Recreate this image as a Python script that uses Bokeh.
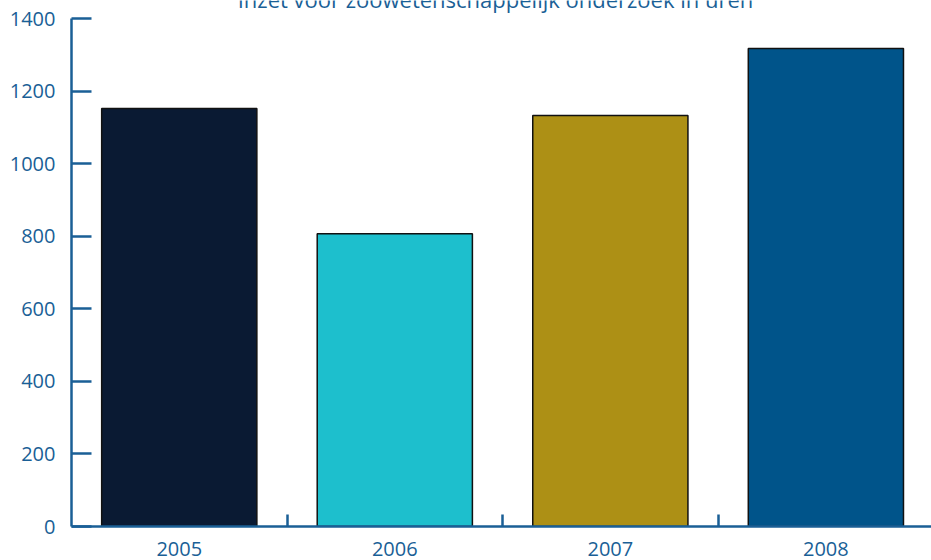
from bokeh.plotting import figure
from bokeh.models import FixedTicker, Range1d, Label, ColumnDataSource
from bokeh.embed import file_html
from bokeh.resources import INLINE

categories = ["2005", "2006", "2007", "2008"]
values = [1152, 807, 1133, 1317]
colors = ["#0a1a33", "#1dbfcd", "#ad9015", "#00548a"]
y_ticks = [0, 200, 400, 600, 800, 1000, 1200, 1400]
title_text = "Inzet voor zoöwetenschappelijk onderzoek in uren"

AXIS = "#1a5f96"
FONT = "Open Sans"

centers = [i + 0.5 for i in range(len(categories))]
bounds = [i for i in range(1, len(categories))]

src = ColumnDataSource(dict(x=centers, top=values, color=colors))

px_per_unit = 508 / 1400.0
y_top = 1400 + 18 / px_per_unit

p = figure(width=931, height=560, output_backend="svg", toolbar_location=None,
           x_range=Range1d(0, 3.99), y_range=Range1d(0, y_top),
           min_border_left=71, min_border_right=0, min_border_top=0,
           min_border_bottom=34)
p.outline_line_color = None
p.xgrid.visible = False
p.ygrid.visible = False

p.vbar(x="x", top="top", width=0.72, bottom=0, fill_color="color",
       line_color="#111111", line_width=1.5, source=src)

p.yaxis.ticker = FixedTicker(ticks=y_ticks)
p.yaxis.bounds = (0, 1400)
p.yaxis.major_tick_in = 20
p.yaxis.major_tick_out = 0
p.yaxis.major_label_standoff = 16

p.xaxis.ticker = FixedTicker(ticks=centers, minor_ticks=bounds)
p.xaxis.major_label_overrides = {c: lab for c, lab in zip(centers, categories)}
p.xaxis.major_tick_in = 0
p.xaxis.major_tick_out = 0
p.xaxis.minor_tick_in = 12
p.xaxis.minor_tick_out = 0
p.xaxis.major_label_standoff = 15

for ax in (p.xaxis, p.yaxis):
    ax.axis_line_color = AXIS
    ax.axis_line_width = 2.5
    ax.major_tick_line_color = AXIS
    ax.major_tick_line_width = 2.5
    ax.minor_tick_line_color = AXIS
    ax.minor_tick_line_width = 2.5
    ax.major_label_text_color = AXIS
    ax.major_label_text_font = FONT
    ax.major_label_text_font_size = "20px"
p.yaxis.minor_tick_line_color = None

p.add_layout(Label(x=495 - 71, y=y_top + 2 / px_per_unit, x_units="screen", y_units="data",
                   text=title_text, text_align="center", text_baseline="alphabetic",
                   text_font=FONT, text_font_size="22px", text_color=AXIS))

open("out.html", "w").write(file_html(p, INLINE))
